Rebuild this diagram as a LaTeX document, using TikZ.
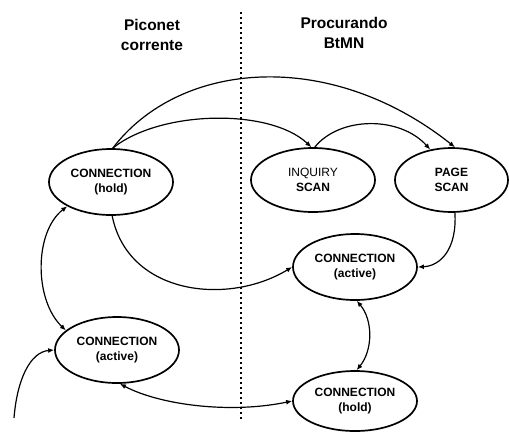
\documentclass[tikz,border=0pt]{standalone}
\usepackage{fontspec}
\setmainfont{Liberation Sans}
\usetikzlibrary{shapes.geometric,arrows.meta}
\begin{document}
\begin{tikzpicture}[x=1pt,y=-1pt,
  state/.style={ellipse,draw,line width=1.7pt,minimum width=124pt,minimum height=66pt,
    inner sep=0pt,align=center,font=\fontsize{12}{15}\selectfont\bfseries},
  title/.style={align=center,font=\fontsize{15.5}{20}\selectfont\bfseries},
  tip/.style={-{Latex[length=6pt,width=5pt]}},
  tips/.style={{Latex[length=6pt,width=5pt]}-{Latex[length=6pt,width=5pt]}},
  link/.style={line width=1.2pt}]
\useasboundingbox (0,0) rectangle (509,432);

% divider between the two regions
\draw[line width=1.3pt,dash pattern=on 2.2pt off 2.8pt] (241,12) -- (241,420);

\node[title] (tl) at (152,35) {Piconet\\corrente};
\node[title] (tr) at (344,33) {Procurando\\BtMN};

% states
\node[state] (hL) at (111,182) {CONNECTION\\(hold)};
\node[state,minimum height=64pt] (iq) at (313,180) {{\mdseries INQUIRY}\\SCAN};
\node[state,minimum width=113pt,minimum height=64pt] (pg) at (451.5,180) {PAGE\\SCAN};
\node[state] (aR) at (355,267) {CONNECTION\\(active)};
\node[state] (aL) at (117,350) {CONNECTION\\(active)};
\node[state,minimum height=60pt] (hR) at (355,401) {CONNECTION\\(hold)};
\coordinate (src) at (14,418);

% transitions
\draw[link,tip] (hL.87) .. controls (160,110) and (270,108) .. (iq.93);
\draw[link,tip] (hL.87) .. controls (180,60) and (330,48) .. (pg.84);
\draw[link,tip] (iq.87) .. controls (340,116) and (400,116) .. (pg.125);
\draw[link,tip] (hL.-88) .. controls (128,295) and (228,306) .. (aR.west);
\draw[link,tip] (pg.-84) .. controls (457,250) and (440,266) .. (aR.east);
\draw[link,tips] (aR.-87) .. controls (373,320) and (373,350) .. (hR.87);
\draw[link,tips] (hL.209) .. controls (34,232) and (34,300) .. (aL.159);
\draw[link,tips] (aL.-85) .. controls (160,405) and (230,414) .. (hR.west);
\draw[link,tip] (src) .. controls (17,380) and (30,352) .. (aL.west);
\end{tikzpicture}
\end{document}
